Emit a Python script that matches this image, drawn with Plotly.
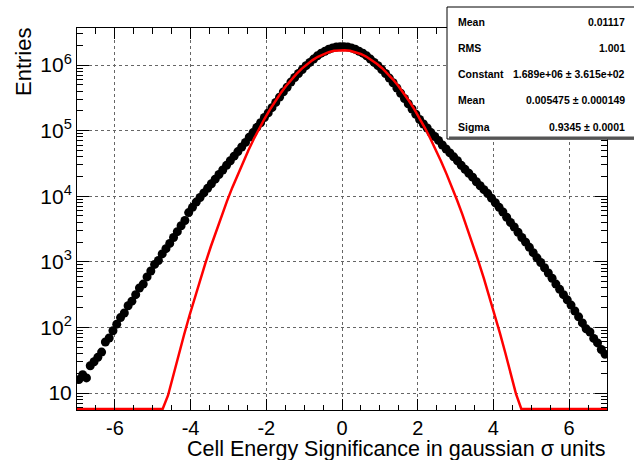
import numpy as np
import plotly.graph_objects as go

# ---- data ----
bin_low, bin_high, n_bins = -7.0, 7.0, 140
entries = [
    16, 19, 17, 26, 30, 35, 42, 60, 69, 89,
    112, 141, 166, 214, 251, 316, 398, 457, 589, 724,
    912, 1047, 1318, 1585, 1905, 2344, 2884, 3548, 4266, 5623,
    6761, 8128, 9550, 11220, 13180, 15490, 18200, 21380, 25120, 29510,
    34670, 40740, 47860, 56230, 66070, 79430, 93330, 112200, 131800, 158500,
    186200, 223900, 269200, 323600, 389000, 457100, 549500, 645700, 741300, 851100,
    977200, 1096000, 1230000, 1380000, 1514000, 1622000, 1738000, 1820000, 1884000, 1905000,
    1905000, 1884000, 1820000, 1738000, 1622000, 1514000, 1380000, 1230000, 1096000, 977200,
    851100, 741300, 631000, 537000, 446700, 371500, 309000, 257000, 213800, 177800,
    147900, 125900, 109600, 93330, 81280, 70790, 60260, 52480, 45710, 39810,
    34670, 29510, 25700, 22390, 19500, 16600, 14450, 12590, 10960, 9333,
    7943, 6761, 5754, 4786, 3981, 3388, 2818, 2344, 1995, 1660,
    1380, 1148, 977, 813, 676, 562, 457, 380, 316, 263,
    219, 178, 145, 117, 95, 85, 68, 58, 46, 39,
]

# fit parameters shown in the stats box
fit_constant = 1.689e6
fit_mean = 0.005475
fit_sigma = 0.9345

stats_labels = ["Mean", "RMS", "Constant", "Mean", "Sigma"]
stats_values = ["0.01117", "1.001", "1.689e+06 ± 3.615e+02",
                "0.005475 ± 0.000149", "0.9345 ± 0.0001"]

x_tick_vals = [-6, -4, -2, 0, 2, 4, 6]
x_tick_text = ["-6", "-4", "-2", "0", "2", "4", "6"]
y_tick_vals = [10, 100, 1000, 1e4, 1e5, 1e6]
y_tick_text = ["10", "10<sup>2</sup>", "10<sup>3</sup>", "10<sup>4</sup>",
               "10<sup>5</sup>", "10<sup>6</sup>"]

# ---- figure ----
FONT = "Liberation Sans, Arial, Helvetica, sans-serif"
W, H = 634, 460
L, R, T, B = 77, 27, 28, 50
pw, ph = W - L - R, H - T - B
ylog_min, ylog_max = 0.741, 6.564

edges = np.linspace(bin_low, bin_high, n_bins + 1)
centers = 0.5 * (edges[:-1] + edges[1:])

fx = np.linspace(bin_low, bin_high, 100)
fy = fit_constant * np.exp(-0.5 * ((fx - fit_mean) / fit_sigma) ** 2)
floor = 10 ** (ylog_min + 1.0 / (ph / (ylog_max - ylog_min)))
fy = np.maximum(fy, floor)

fig = go.Figure()
fig.add_trace(go.Scatter(x=centers, y=entries, mode="markers",
                         marker=dict(color="black", size=9, line=dict(width=0)),
                         showlegend=False, hoverinfo="skip"))
fig.add_trace(go.Scatter(x=fx, y=fy, mode="lines",
                         line=dict(color="#ff0000", width=2.5),
                         showlegend=False, hoverinfo="skip"))

minor_y = []
for d in range(0, 7):
    for m in range(2, 10):
        v = m * 10 ** d
        if ylog_min < np.log10(v) < ylog_max:
            minor_y.append(v)

fig.update_xaxes(range=[bin_low, bin_high], tickmode="array", tickvals=x_tick_vals,
                 ticktext=x_tick_text, ticks="inside", ticklen=11, tickcolor="black",
                 showline=True, linecolor="black", linewidth=1, mirror="ticks",
                 showgrid=True, gridcolor="#666", griddash="dot", gridwidth=1,
                 zeroline=False, tickfont=dict(family=FONT, size=20, color="black"),
                 minor=dict(dtick=0.5, tick0=0, ticks="inside", ticklen=5.5,
                            tickcolor="black", showgrid=False))
fig.update_yaxes(type="log", range=[ylog_min, ylog_max], tickmode="array",
                 tickvals=y_tick_vals, ticktext=y_tick_text, ticks="inside",
                 ticklen=12, tickcolor="black", showline=True, linecolor="black",
                 linewidth=1, mirror="ticks", showgrid=True, gridcolor="#666",
                 griddash="dot", gridwidth=1, zeroline=False,
                 tickfont=dict(family=FONT, size=21, color="black"),
                 minor=dict(tickmode="array", tickvals=minor_y, ticks="inside",
                            ticklen=6, tickcolor="black", showgrid=False))

def px_to_paper_x(px):
    return (px - L) / pw

def py_to_paper_y(py):
    return (H - B - py) / ph

shapes = []
box_l, box_r, box_t, box_b = 447, 640, 7, 137
shapes.append(dict(type="rect", xref="paper", yref="paper",
                   x0=px_to_paper_x(box_l), x1=px_to_paper_x(box_r),
                   y0=py_to_paper_y(box_b + 2), y1=py_to_paper_y(box_t),
                   fillcolor="white", line=dict(color="black", width=1), layer="above"))
shapes.append(dict(type="line", xref="paper", yref="paper",
                   x0=px_to_paper_x(box_l + 2), x1=px_to_paper_x(box_r),
                   y0=py_to_paper_y(box_b + 1), y1=py_to_paper_y(box_b + 1),
                   line=dict(color="#555", width=3), layer="above"))

annotations = []
row_y = [21.7, 48.3, 74, 100, 126.7]
for lab, val, ry in zip(stats_labels, stats_values, row_y):
    annotations.append(dict(xref="paper", yref="paper", x=px_to_paper_x(456),
                            y=py_to_paper_y(ry), xanchor="left", yanchor="middle",
                            text="<b>%s</b>" % lab, showarrow=False,
                            font=dict(family=FONT, size=10.5, color="black")))
    annotations.append(dict(xref="paper", yref="paper", x=px_to_paper_x(627),
                            y=py_to_paper_y(ry), xanchor="right", yanchor="middle",
                            text="<b>%s</b>" % val, showarrow=False,
                            font=dict(family=FONT, size=10.5, color="black")))

annotations.append(dict(xref="paper", yref="paper", x=1.0, y=py_to_paper_y(449),
                        xanchor="right", yanchor="middle",
                        text="Cell Energy Significance in gaussian σ units",
                        showarrow=False, font=dict(family=FONT, size=21.5, color="black")))
annotations.append(dict(xref="paper", yref="paper", x=px_to_paper_x(23),
                        y=py_to_paper_y(62), xanchor="center", yanchor="middle",
                        text="Entries", textangle=-90, showarrow=False,
                        font=dict(family=FONT, size=22, color="black")))

fig.update_layout(width=W, height=H, margin=dict(l=L, r=R, t=T, b=B),
                  paper_bgcolor="white", plot_bgcolor="white",
                  shapes=shapes, annotations=annotations, showlegend=False)

fig.write_html("out.html")
